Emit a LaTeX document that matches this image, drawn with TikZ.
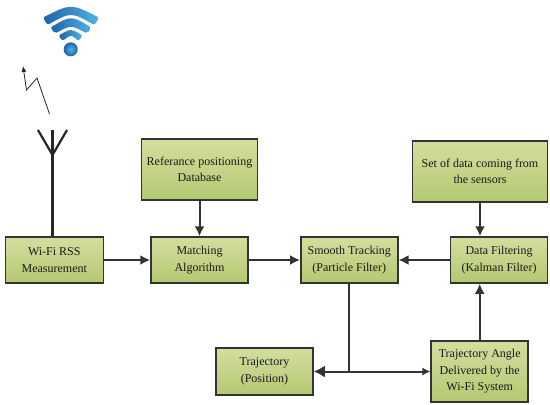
\documentclass[tikz,border=0pt]{standalone}
\usepackage{fontspec}
\setmainfont{Liberation Serif}
\usepackage{xcolor}
\usetikzlibrary{arrows.meta}
\definecolor{boxtop}{HTML}{D3DE9E}
\definecolor{boxbot}{HTML}{B4C872}
\definecolor{linec}{HTML}{333333}
\definecolor{wifid}{HTML}{1F63A8}
\definecolor{wifil}{HTML}{4FB2E6}
\begin{document}
\begin{tikzpicture}[x=1pt,y=-1pt,
  blockn/.style={draw=linec,line width=1.5pt,top color=boxtop,bottom color=boxbot,
    minimum width=98pt,minimum height=46pt,inner sep=0pt,align=center,text=black!90,
    font=\fontsize{12}{16.5}\selectfont},
  flow/.style={draw=linec,line width=2pt,-{Latex[length=10pt,width=10pt]}},
  plain/.style={draw=linec,line width=2pt},
  mast/.style={draw=black!85,line width=2.2pt},
  zigzag/.style={draw=black!85,line width=0.8pt,-{Latex[length=6pt,width=5pt]}},
  wave/.style={left color=wifid,right color=wifil,rounded corners=2pt}]
  \useasboundingbox (0,0) rectangle (550,405);
  \shade[wave] (43,17.5) .. controls (71,3.5) .. (99,17.5) -- (94.5,25) .. controls (71,12) .. (47.5,25) -- cycle;
  \shade[wave] (50.5,27.5) .. controls (71,15.5) .. (91.5,27.5) -- (87,33.5) .. controls (71,25) .. (55,33.5) -- cycle;
  \shade[wave] (58.5,35.5) .. controls (71,28.5) .. (82.5,35.5) -- (78.5,41) .. controls (71,34.5) .. (62.5,41) -- cycle;
  \shade[inner color=wifil,outer color=wifid] (70.7,49.3) circle[radius=7pt];
  \coordinate (zig1) at (49.5,114);
  \coordinate (zig2) at (37,78);
  \coordinate (zig3) at (26.5,90);
  \coordinate (zig4) at (23,66);
  \draw[zigzag] (zig1)--(zig2)--(zig3)--(zig4);
  \node[blockn,minimum width=98pt] (rss) at (54.3,260) {Wi-Fi RSS\\Measurement};
  \node[blockn,minimum width=97pt] (match) at (199.5,260) {Matching\\Algorithm};
  \node[blockn,minimum width=97pt] (track) at (349.3,260) {Smooth Tracking\\(Particle Filter)};
  \node[blockn,minimum width=97pt] (filt) at (499,260) {Data Filtering\\(Kalman Filter)};
  \node[blockn,minimum width=116pt,minimum height=61pt] (dbase) at (199.5,169.5) {Referance positioning\\Database};
  \node[blockn,minimum width=135pt,minimum height=61pt] (sens) at (480,171.5) {Set of data coming from\\the sensors};
  \node[blockn,minimum width=97pt,minimum height=47pt] (traj) at (264.5,371.5) {Trajectory\\(Position)};
  \node[blockn,minimum width=97pt,minimum height=61pt] (angle) at (479.7,371.5) {Trajectory Angle\\Delivered by the\\Wi-Fi System};
  \coordinate (fork) at (52.5,155);
  \coordinate (tipl) at (38,130);
  \coordinate (tipm) at (52.5,130);
  \coordinate (tipr) at (67,130);
  \coordinate (junc) at (track.south |- traj.east);
  \draw[mast] (fork |- rss.north)--(tipm);
  \draw[mast] (tipl)--(fork)--(tipr);
  \draw[flow] (rss)--(match);
  \draw[flow] (dbase)--(match);
  \draw[flow] (match)--(track);
  \draw[flow] (filt)--(track);
  \draw[flow] (sens.south)--(sens.south |- filt.north);
  \draw[flow] (angle.north)--(angle.north |- filt.south);
  \draw[plain] (track.south)--(junc);
  \draw[flow,-{Latex[length=11pt,width=12pt]}] (junc)--(traj.east);
  \draw[flow,-{Latex[length=8pt,width=8pt]}] (junc)--(angle.west);
\end{tikzpicture}
\end{document}
